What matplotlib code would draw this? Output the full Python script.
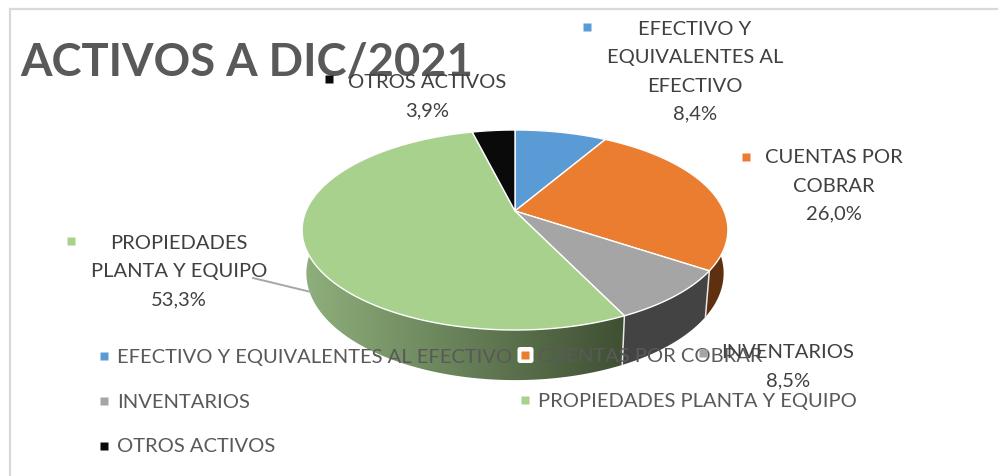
import numpy as np
import matplotlib
matplotlib.use("Agg")
import matplotlib.pyplot as plt
from matplotlib.colors import LinearSegmentedColormap
from matplotlib.patches import Polygon, FancyBboxPatch

title = "ACTIVOS A DIC/2021"
categories = ["EFECTIVO Y EQUIVALENTES AL EFECTIVO", "CUENTAS POR COBRAR", "INVENTARIOS",
              "PROPIEDADES PLANTA Y EQUIPO", "OTROS ACTIVOS"]
label_names = ["EFECTIVO Y\nEQUIVALENTES AL\nEFECTIVO", "CUENTAS POR\nCOBRAR", "INVENTARIOS",
               "PROPIEDADES\nPLANTA Y EQUIPO", "OTROS ACTIVOS"]
values = [8.4, 26.0, 8.5, 53.3, 3.9]
colors = ["#5B9BD5", "#EB7D31", "#A5A5A5", "#A9D18E", "#0A0A0A"]
wall_left = ["#2f5f8c", "#5f3010", "#434343", "#8fb07c", "#050505"]
wall_right = ["#2f5f8c", "#5f3010", "#434343", "#3f4f33", "#050505"]

plt.rcParams["font.family"] = ["Lato", "DejaVu Sans"]
W, H = 998, 476
fig = plt.figure(figsize=(W / 100, H / 100), dpi=100, facecolor="white")
ax = fig.add_axes([0, 0, 1, 1])
ax.set_xlim(0, W)
ax.set_ylim(H, 0)
ax.axis("off")

# Perspective mapping of the pie disc on to the picture
CX, CY, A, B, K = 515, 211, 209, 96.4, 0.19


def top_rim(theta):
    x, y = np.sin(theta), np.cos(theta)
    d = 1 + K * y
    return CX + A * x / d, CY - B * y / d


def low_rim(theta):
    x, y = top_rim(theta)
    return CX + 0.98 * (x - CX), 253 + 1.068 * (y - CY)


fractions = np.array(values) / np.sum(values)
edges = np.concatenate([[0], np.cumsum(fractions)]) * 2 * np.pi

# side walls
for i in range(len(values)):
    th = np.linspace(edges[i], edges[i + 1], 200)
    tx, ty = top_rim(th)
    lx, ly = low_rim(th)
    pts = np.column_stack([np.r_[tx, lx[::-1]], np.r_[ty, ly[::-1]]])
    poly = Polygon(pts, closed=True, facecolor="none", edgecolor="none", zorder=1)
    ax.add_patch(poly)
    cmap = LinearSegmentedColormap.from_list("w", [wall_left[i], wall_right[i]])
    im = ax.imshow(np.linspace(0, 1, 256).reshape(1, -1), cmap=cmap, aspect="auto",
                   extent=(302, 625, H, 0), zorder=1, interpolation="bilinear")
    if wall_left[i] == wall_right[i]:
        im.set_extent((0, W, H, 0))
    im.set_clip_path(poly)
    # seam at the start of each wall
    sx, sy = top_rim(edges[i]), low_rim(edges[i])
    ax.plot([sx[0], sy[0]], [sx[1], sy[1]], color="#e8e8e8", lw=1.1, zorder=1.5)
ax.set_xlim(0, W)
ax.set_ylim(H, 0)

# top face
for i in range(len(values)):
    th = np.linspace(edges[i], edges[i + 1], 200)
    tx, ty = top_rim(th)
    pts = np.column_stack([np.r_[CX, tx], np.r_[CY, ty]])
    ax.add_patch(Polygon(pts, closed=True, facecolor=colors[i], edgecolor="white", lw=1.0,
                         joinstyle="round", zorder=2))

# chart frame
ax.plot([10, 10, W], [H, 9, 9], color="#d9d9d9", lw=1.6, zorder=0.5, solid_joinstyle="miter")

# leader line
ax.plot([253, 311], [278, 292], color="#a6a6a6", lw=1.4, zorder=3)

# title
ax.text(20, 76, title, fontsize=32.7, fontweight="bold", color="#595959", ha="left",
        va="baseline", zorder=4)

# legend
legend_pos = [(104, 356), (525, 355), (104, 401), (525, 400), (104, 446)]
ax.add_patch(FancyBboxPatch((519, 348.5), 13, 13, boxstyle="round,pad=1.5,rounding_size=2.5",
                            facecolor="white", edgecolor="none", zorder=4))
for name, col, (mx, my) in zip(categories, colors, legend_pos):
    ax.plot([mx], [my], marker="s", ms=6, mec="none", color=col, ls="none", zorder=5)
    ax.text(mx + 13, my + 1, name, fontsize=14.5, color="#595959", ha="left", va="center", zorder=5)

# data labels
label_pos = [(695, 72), (834, 186), (788, 367), (179, 272), (427, 97)]
marker_pos = [(587, 27), (746, 157), (703, 353), (71, 241), (329, 79)]
for name, v, col, (lx, ly), (mx, my) in zip(label_names, values, colors, label_pos, marker_pos):
    txt = f"{name}\n{v:.1f}%".replace(".", ",")
    ax.text(lx, ly, txt, fontsize=14.5, color="#404040", ha="center", va="center",
            linespacing=1.8, zorder=6)
    ax.plot([mx], [my], marker="s", ms=6, mec="none", color=col, ls="none", zorder=6)

fig.savefig("out.png", dpi=100)
